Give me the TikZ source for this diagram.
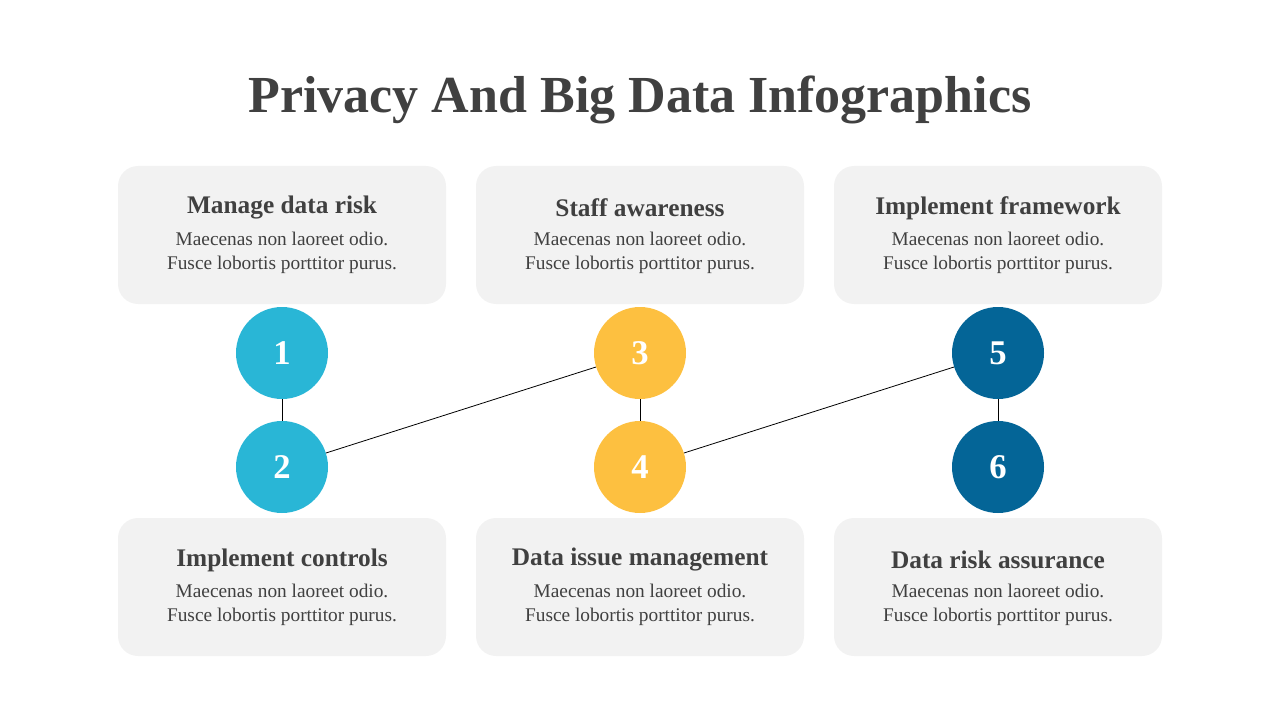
\documentclass[tikz,border=0pt]{standalone}
\usepackage{fontspec}
\setmainfont{Liberation Serif}
\usetikzlibrary{positioning}
\definecolor{inkgray}{HTML}{404040}
\definecolor{boxgray}{HTML}{F2F2F2}
\definecolor{cyanstep}{HTML}{29B6D6}
\definecolor{yellowstep}{HTML}{FDC040}
\definecolor{bluestep}{HTML}{046597}
\begin{document}
\begin{tikzpicture}[
				x=0.75pt, y=-0.75pt,
				card/.style={
					rectangle,
					rounded corners=15pt,
					fill=boxgray,
					minimum width=246pt,
					minimum height=103.5pt
				},
				heading/.style={
					text=inkgray,
					font=\fontsize{19}{22}\selectfont\bfseries
				},
				body/.style={
					text=inkgray,
					align=center,
					font=\fontsize{14.5}{17.5}\selectfont
				},
				disc/.style={
					circle,
					minimum size=69pt,
					text=white,
					font=\fontsize{26}{30}\selectfont\bfseries
				},
				link/.style={
					draw=black,
					line width=0.6pt
				}]

			\useasboundingbox (0,0) rectangle (1280,720);
			\node[text=inkgray, font=\fontsize{39}{44}\selectfont\bfseries] (title) at (640,100) {Privacy And Big Data Infographics};

			%%% Cards above and below
			\foreach [count=\i] \x/\head in {282/Manage data risk, 640/Staff awareness, 998/Implement framework} {
				\node [card] (top\i) at (\x,235) {};
				\node [heading] (tophead\i) at (\x,208) {\head};
				\node [body] (topbody\i) at (\x,253) {Maecenas non laoreet odio.\\Fusce lobortis porttitor purus.};
			};
			\foreach [count=\i] \x/\head in {282/Implement controls, 640/Data issue management, 998/Data risk assurance} {
				\node [card] (bot\i) at (\x,587) {};
				\node [heading] (bothead\i) at (\x,560) {\head};
				\node [body] (botbody\i) at (\x,605) {Maecenas non laoreet odio.\\Fusce lobortis porttitor purus.};
			};

			%%% Numbered discs
			\node [disc, fill=cyanstep] (step1) at (282,353) {1};
			\node [disc, fill=cyanstep] (step2) at (282,467) {2};
			\node [disc, fill=yellowstep] (step3) at (640,353) {3};
			\node [disc, fill=yellowstep] (step4) at (640,467) {4};
			\node [disc, fill=bluestep] (step5) at (998,353) {5};
			\node [disc, fill=bluestep] (step6) at (998,467) {6};

			\path [link] (step1) -- (step2);
			\path [link] (step2) -- (step3);
			\path [link] (step3) -- (step4);
			\path [link] (step4) -- (step5);
			\path [link] (step5) -- (step6);

		\end{tikzpicture}
\end{document}
